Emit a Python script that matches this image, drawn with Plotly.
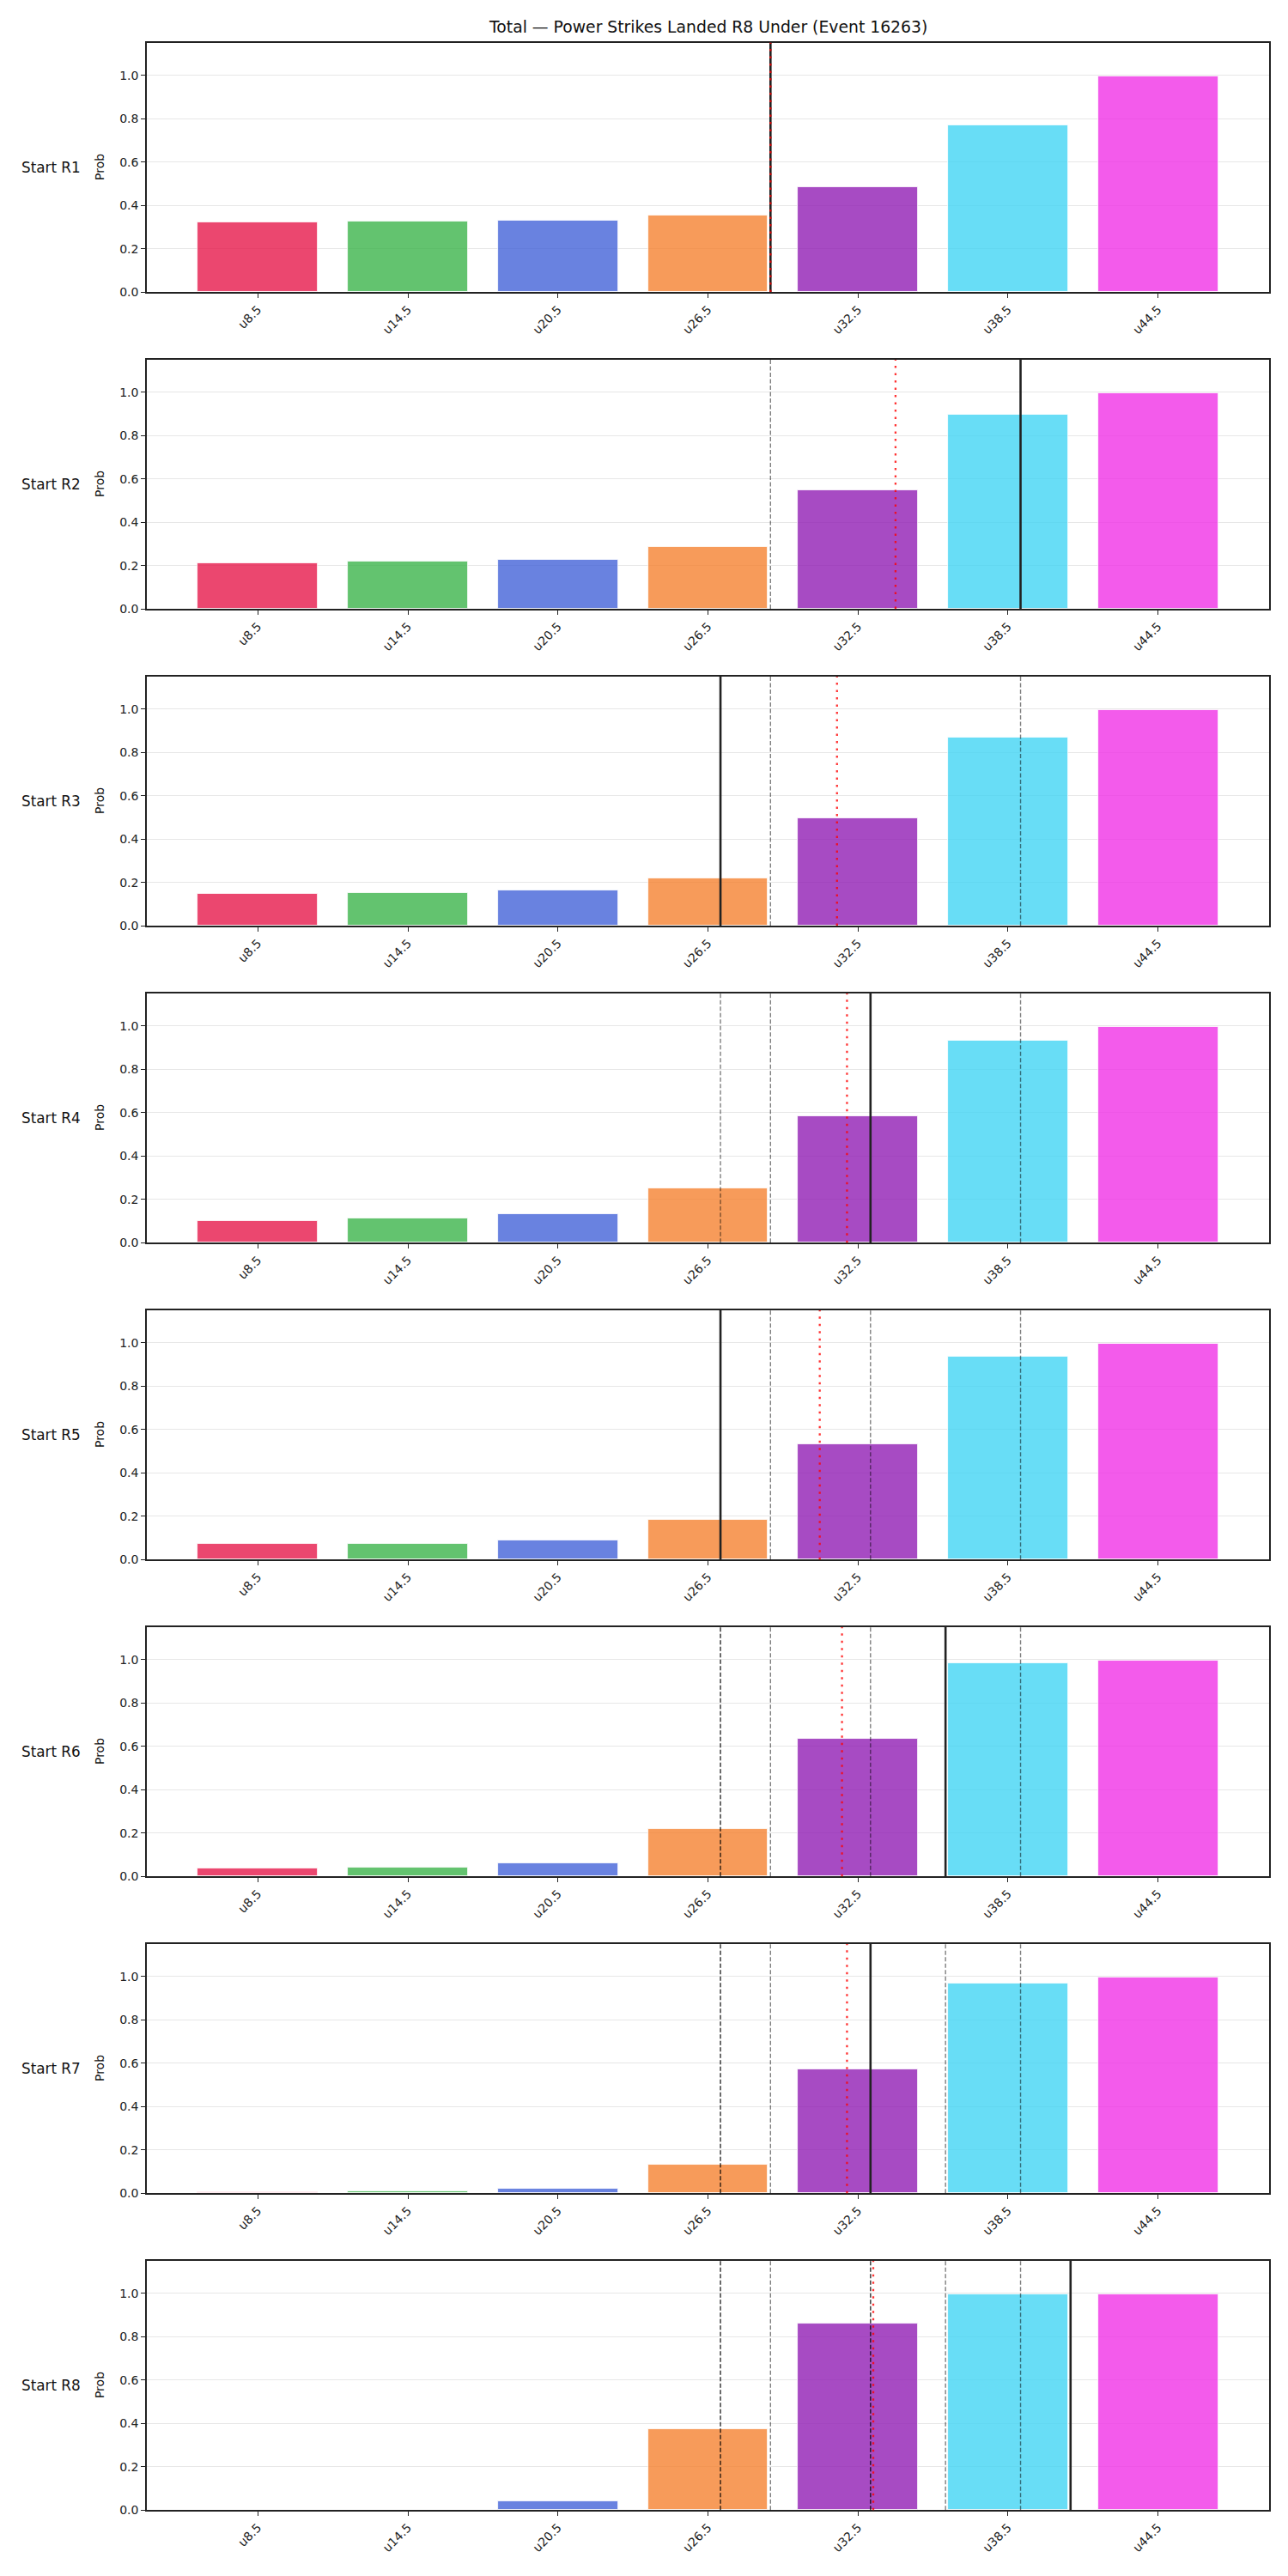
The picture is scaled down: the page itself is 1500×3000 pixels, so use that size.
import plotly.graph_objects as go

# ---- data ----
lines_labels = ["u8.5", "u14.5", "u20.5", "u26.5", "u32.5", "u38.5", "u44.5"]
line_points = [8.5, 14.5, 20.5, 26.5, 32.5, 38.5, 44.5]
rounds = ["Start R1", "Start R2", "Start R3", "Start R4", "Start R5", "Start R6", "Start R7", "Start R8"]

prob_r1 = [0.320, 0.324, 0.328, 0.355, 0.486, 0.771, 0.997]
prob_r2 = [0.210, 0.218, 0.226, 0.285, 0.546, 0.897, 0.997]
prob_r3 = [0.149, 0.153, 0.162, 0.217, 0.498, 0.870, 0.997]
prob_r4 = [0.101, 0.113, 0.133, 0.251, 0.583, 0.934, 0.997]
prob_r5 = [0.073, 0.073, 0.089, 0.184, 0.533, 0.938, 0.997]
prob_r6 = [0.037, 0.041, 0.061, 0.219, 0.635, 0.984, 0.996]
prob_r7 = [0.005, 0.009, 0.021, 0.132, 0.572, 0.968, 0.996]
prob_r8 = [0.0005, 0.002, 0.042, 0.372, 0.862, 0.997, 0.997]
probs = [prob_r1, prob_r2, prob_r3, prob_r4, prob_r5, prob_r6, prob_r7, prob_r8]

# observed total at each round start (solid black) and projected total (red dotted)
actual_total = [29, 39, 27, 33, 27, 36, 33, 41]
projected_total = [29.0, 34.0, 31.66, 32.06, 30.97, 31.86, 32.06, 33.11]

bar_colors = ["rgba(230,25,75,0.8)", "rgba(60,180,75,0.8)", "rgba(67,99,216,0.8)",
              "rgba(245,130,49,0.8)", "rgba(145,30,180,0.8)", "rgba(66,212,244,0.8)",
              "rgba(240,50,230,0.8)"]

title_text = "Total \u2014 Power Strikes Landed R8 Under (Event 16263)"

# ---- layout geometry (pixels) ----
W, H = 1500, 3000
x_left, x_right = 171, 1478
top0, step, ph = 50, 370.0, 291.0
FONT = "DejaVu Sans"
step_pts = line_points[1] - line_points[0]


def to_pos(total):
    # map a total onto the categorical axis (each category = one line point)
    return (total - line_points[0]) / step_pts


fig = go.Figure()
shapes = []
annotations = []
cat_x = list(range(len(lines_labels)))

for i, (name, p) in enumerate(zip(rounds, probs)):
    k = i + 1
    xa = "x" if k == 1 else f"x{k}"
    ya = "y" if k == 1 else f"y{k}"
    fig.add_trace(go.Bar(
        x=cat_x, y=p, width=0.8, xaxis=xa, yaxis=ya,
        marker=dict(color=bar_colors, line=dict(color="white", width=0.8)),
        showlegend=False, hoverinfo="x+y",
    ))
    top = top0 + step * i
    bot = top + ph
    dom_y = [1 - bot / H, 1 - top / H]
    common_x = dict(
        domain=[x_left / W, x_right / W], anchor=ya, range=[-0.74, 6.74],
        tickmode="array", tickvals=cat_x, ticktext=lines_labels, tickangle=-45,
        ticks="outside", ticklen=5, tickwidth=1.2, tickcolor="#222",
        showline=True, mirror=True, linecolor="#222", linewidth=1.6,
        showgrid=False, zeroline=False,
        tickfont=dict(family=FONT, size=14, color="#222"),
    )
    common_y = dict(
        domain=dom_y, anchor=xa, range=[0, 1.15],
        tickmode="array", tickvals=[0, 0.2, 0.4, 0.6, 0.8, 1.0],
        ticktext=["0.0", "0.2", "0.4", "0.6", "0.8", "1.0"],
        ticks="outside", ticklen=5, tickwidth=1.2, tickcolor="#222",
        showline=True, mirror=True, linecolor="#222", linewidth=1.6,
        showgrid=True, gridcolor="rgba(176,176,176,0.3)", gridwidth=1.1,
        zeroline=False,
        tickfont=dict(family=FONT, size=14, color="#222"),
    )
    fig.layout["xaxis" if k == 1 else f"xaxis{k}"] = common_x
    fig.layout["yaxis" if k == 1 else f"yaxis{k}"] = common_y

    yref = "y domain" if k == 1 else f"y{k} domain"
    # previous rounds' observed totals (grey dashed)
    for prev in actual_total[:i]:
        shapes.append(dict(type="line", xref=xa, yref=yref,
                           x0=to_pos(prev), x1=to_pos(prev), y0=0, y1=1,
                           line=dict(color="rgba(0,0,0,0.5)", width=1.4, dash="5px,2.5px"),
                           layer="above"))
    # current observed total (solid black)
    xs = to_pos(actual_total[i])
    shapes.append(dict(type="line", xref=xa, yref=yref, x0=xs, x1=xs, y0=0, y1=1,
                       line=dict(color="#222", width=2.6), layer="above"))
    # projection (red dotted)
    xp = to_pos(projected_total[i])
    shapes.append(dict(type="line", xref=xa, yref=yref, x0=xp, x1=xp, y0=0, y1=1,
                       line=dict(color="rgba(255,0,0,0.8)", width=2.3, dash="2.5px,6px"),
                       layer="above"))

    yc = 1 - (top + ph / 2) / H
    annotations.append(dict(text=name, xref="paper", yref="paper", x=23 / W, y=yc,
                            xanchor="left", yanchor="middle", showarrow=False,
                            font=dict(family=FONT, size=16.8, color="#111")))
    annotations.append(dict(text="Prob", xref="paper", yref="paper", x=116 / W, y=yc,
                            xanchor="center", yanchor="middle", textangle=-90, showarrow=False,
                            font=dict(family=FONT, size=14, color="#111")))

annotations.append(dict(text=title_text, xref="paper", yref="paper",
                        x=(x_left + x_right) / 2 / W, y=1 - 32 / H,
                        xanchor="center", yanchor="middle", showarrow=False,
                        font=dict(family=FONT, size=18.8, color="#111")))

fig.update_layout(
    width=W, height=H, margin=dict(l=0, r=0, t=0, b=0),
    paper_bgcolor="white", plot_bgcolor="white",
    shapes=shapes, annotations=annotations, bargap=0,
    font=dict(family=FONT, color="#222"),
)

fig.write_html("out.html")
